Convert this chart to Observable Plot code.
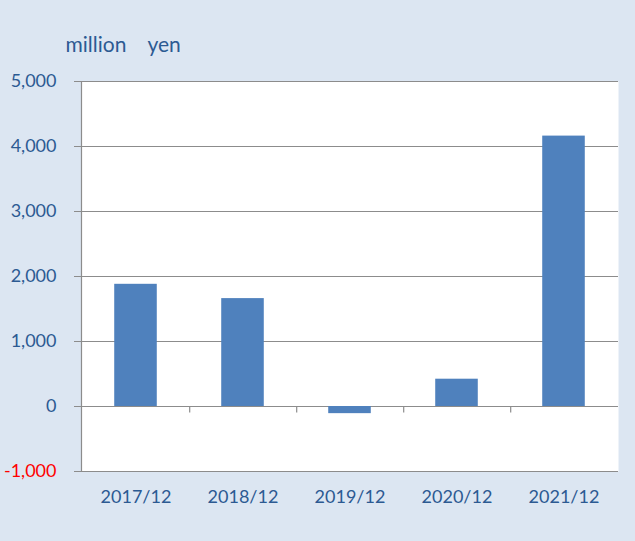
<!DOCTYPE html>
<html>
<head>
<meta charset="utf-8">
<script src="https://cdn.jsdelivr.net/npm/d3@7"></script>
<script src="https://cdn.jsdelivr.net/npm/@observablehq/plot@0.6"></script>
<style>
  html, body { margin: 0; padding: 0; background: #dce6f2; }
  #chart svg { display: block; }
</style>
</head>
<body>
<div id="chart"></div>
<script>
const categories = ["2017/12", "2018/12", "2019/12", "2020/12", "2021/12"];
const values = [1880, 1660, -110, 420, 4160];
const yTicks = [-1000, 0, 1000, 2000, 3000, 4000, 5000];
const unitLabel = "million\u3000yen";

const data = categories.map((c, i) => ({category: c, value: values[i]}));
const boundaries = categories.slice(0, categories.length - 1);

const W = 635, H = 541, mL = 81, mR = 17, mT = 81, mB = 70;
const band = (W - mL - mR) / categories.length;
const inset = band * 0.3;
const textColor = "#2c5a92";
const fmt = d => d3.format(",")(d).replace("\u2212", "-");

const chart = Plot.plot({
  width: W,
  height: H,
  marginLeft: mL,
  marginRight: mR,
  marginTop: mT,
  marginBottom: mB,
  style: {background: "#dce6f2", fontFamily: "Lato, 'Open Sans', sans-serif", fontSize: "18px"},
  x: {domain: categories, padding: 0},
  y: {domain: [-1000, 5000]},
  marks: [
    Plot.frame({fill: "white", stroke: null}),
    Plot.ruleY(yTicks, {stroke: "#8c8c8c", strokeWidth: 1.2}),
    Plot.frame({anchor: "left", stroke: "#8c8c8c", strokeWidth: 1.2}),
    Plot.barY(data, {x: "category", y: "value", fill: "#4f81bd", insetLeft: inset, insetRight: inset}),
    Plot.ruleX(boundaries, {x: d => d, y1: 0, y2: -100, dx: band / 2, stroke: "#8c8c8c", strokeWidth: 1.2}),
    Plot.axisY({
      ticks: yTicks,
      tickSize: 7,
      tickPadding: 18,
      tickFormat: fmt,
      stroke: "#8c8c8c",
      fill: d => d < 0 ? "#ff0000" : textColor,
      fontSize: 18,
      label: null
    }),
    Plot.axisX({
      tickSize: 0,
      tickPadding: 19,
      fill: textColor,
      fontSize: 18,
      label: null
    }),
    Plot.text([unitLabel], {
      frameAnchor: "top-left",
      dx: -16,
      dy: -44,
      text: d => d,
      fill: textColor,
      fontSize: "21px",
      textAnchor: "start"
    })
  ]
});
document.getElementById("chart").append(chart);
</script>
</body>
</html>
